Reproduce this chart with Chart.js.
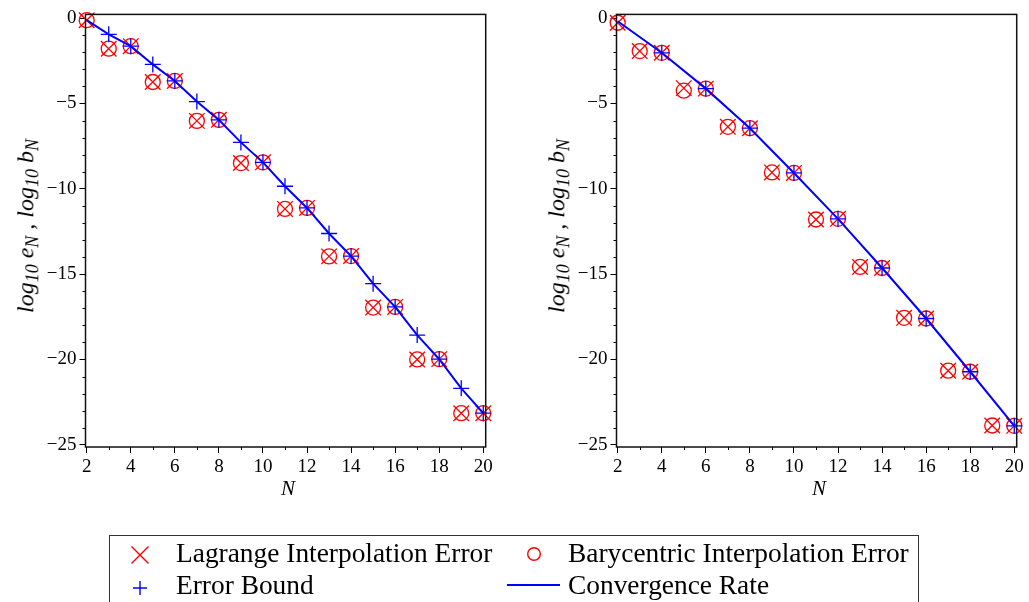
<!DOCTYPE html>
<html>
<head>
<meta charset="utf-8">
<script src="https://cdn.jsdelivr.net/npm/chart.js@4.4.1/dist/chart.umd.min.js"></script>
<style>
  body { margin: 0; width: 1029px; height: 602px; overflow: hidden; background: #fff; position: relative; font-family: 'Liberation Serif', serif; }
  canvas { position: absolute; top: 0; }
  .ytitle { position: absolute; transform: translate(-50%, -50%) rotate(-90deg); white-space: nowrap; font: italic 24px 'Liberation Serif', serif; color: #000; }
  .ytitle sub { font-size: 18px; vertical-align: -0.3em; }
  .xtitle { position: absolute; transform: translate(-50%, -50%); font: italic 21px 'Liberation Serif', serif; color: #000; }
  .legend-box { position: absolute; left: 109px; top: 535px; width: 810px; height: 90px; border: 1.5px solid #333; box-sizing: border-box; }
  .leg-text { position: absolute; font: 27.4px 'Liberation Serif', serif; line-height: 1; white-space: nowrap; color: #000; }
  .leg-sym { position: absolute; }
</style>
</head>
<body>
<canvas id="leftChart" width="498" height="500" style="left:0"></canvas>
<canvas id="rightChart" width="498" height="500" style="left:531px"></canvas>

<div class="ytitle" style="left:28px; top:226px">log<sub>10</sub> e<sub>N</sub> , log<sub>10</sub> b<sub>N</sub></div>
<div class="ytitle" style="left:559px; top:226px">log<sub>10</sub> e<sub>N</sub> , log<sub>10</sub> b<sub>N</sub></div>
<div class="xtitle" style="left:288px; top:488px">N</div>
<div class="xtitle" style="left:819px; top:488px">N</div>

<div class="legend-box"></div>
<svg class="leg-sym" style="left:0;top:0" width="1029" height="602">
  <path d="M131.5 546.5 L148.5 563.5 M148.5 546.5 L131.5 563.5" stroke="#ff0000" stroke-width="1.4" fill="none"/>
  <circle cx="534" cy="554" r="6.3" stroke="#ff0000" stroke-width="1.4" fill="none"/>
  <path d="M133 588 L147 588 M140 581 L140 595" stroke="#0000ff" stroke-width="1.4" fill="none"/>
  <line x1="507" y1="585" x2="560" y2="585" stroke="#0000ff" stroke-width="2"/>
</svg>
<div class="leg-text" style="left:176px; top:540px">Lagrange Interpolation Error</div>
<div class="leg-text" style="left:568px; top:540px">Barycentric Interpolation Error</div>
<div class="leg-text" style="left:176px; top:572px">Error Bound</div>
<div class="leg-text" style="left:568px; top:572px">Convergence Rate</div>

<script>
// values (log10 of errors)
const nValues = [2, 3, 4, 5, 6, 7, 8, 9, 10, 11, 12, 13, 14, 15, 16, 17, 18, 19, 20];

const leftLagrange = [-0.12, -1.79, -1.64, -3.74, -3.68, -6.02, -5.96, -8.49, -8.45, -11.18, -11.12, -13.96, -13.94, -16.96, -16.92, -20.0, -19.98, -23.15, -23.15];
const leftBarycentric = [-0.12, -1.79, -1.64, -3.74, -3.68, -6.02, -5.96, -8.49, -8.45, -11.18, -11.12, -13.96, -13.94, -16.96, -16.92, -20.0, -19.98, -23.15, -23.15];
const leftBoundN = [3, 4, 5, 6, 7, 8, 9, 10, 11, 12, 13, 14, 15, 16, 17, 18, 19, 20];
const leftBound = [-0.95, -1.64, -2.71, -3.68, -4.89, -5.96, -7.28, -8.45, -9.85, -11.12, -12.62, -13.94, -15.56, -16.92, -18.57, -19.98, -21.69, -23.15];
const leftRateN = [2, 3, 4, 5, 6, 7, 8, 9, 10, 11, 12, 13, 14, 15, 16, 17, 18, 19, 20];
const leftRate = [-0.12, -0.95, -1.64, -2.71, -3.68, -4.89, -5.96, -7.28, -8.45, -9.85, -11.12, -12.62, -13.94, -15.56, -16.92, -18.57, -19.98, -21.69, -23.15];

const rightLagrange = [-0.27, -1.93, -2.03, -4.1, -4.13, -6.37, -6.45, -9.04, -9.07, -11.8, -11.76, -14.58, -14.64, -17.56, -17.6, -20.66, -20.72, -23.87, -23.89];
const rightBarycentric = [-0.27, -1.93, -2.03, -4.25, -4.13, -6.37, -6.45, -9.04, -9.07, -11.8, -11.76, -14.58, -14.64, -17.56, -17.6, -20.66, -20.72, -23.87, -23.89];
const rightBoundN = [4, 6, 8, 10, 12, 14, 16, 18, 20];
const rightBound = [-2.03, -4.13, -6.45, -9.07, -11.76, -14.64, -17.6, -20.72, -23.89];
const rightRateN = [2, 4, 6, 8, 10, 12, 14, 16, 18, 20];
const rightRate = [-0.18, -2.03, -4.13, -6.45, -9.07, -11.76, -14.64, -17.6, -20.72, -23.89];

const xTickValues = [2, 3, 4, 5, 6, 7, 8, 9, 10, 11, 12, 13, 14, 15, 16, 17, 18, 19, 20];
const yTickValues = [-25, -24, -23, -22, -21, -20, -19, -18, -17, -16, -15, -14, -13, -12, -11, -10, -9, -8, -7, -6, -5, -4, -3, -2, -1, 0];

const RED = '#ff0000';
const BLUE = '#0000ff';
const tickFont = { family: 'Liberation Serif', size: 19 };

function toPoints(xs, ys) {
    return xs.map((x, i) => ({ x: x, y: ys[i] }));
}

// short minor ticks + frame around the plot area
const framePlugin = {
    id: 'frame',
    afterDraw(chart) {
        const ctx = chart.ctx;
        const a = chart.chartArea;
        const xs = chart.scales.x;
        const ys = chart.scales.y;
        ctx.save();
        ctx.strokeStyle = '#000';
        ctx.lineWidth = 1;
        ctx.beginPath();
        xs.ticks.forEach(t => {
            if (t.value % 2 !== 0) {
                const px = Math.round(xs.getPixelForValue(t.value)) + 0.5;
                ctx.moveTo(px, a.bottom);
                ctx.lineTo(px, a.bottom + 3);
            }
        });
        ys.ticks.forEach(t => {
            if (t.value % 5 !== 0) {
                const py = Math.round(ys.getPixelForValue(t.value)) + 0.5;
                ctx.moveTo(a.left - 3, py);
                ctx.lineTo(a.left, py);
            }
        });
        ctx.stroke();
        ctx.lineWidth = 1.5;
        ctx.strokeStyle = '#111';
        ctx.strokeRect(a.left, a.top, a.right - a.left, a.bottom - a.top);
        ctx.restore();
    }
};

function makeChart(id, lagrange, bary, boundN, bound, rateN, rate) {
    return new Chart(document.getElementById(id), {
        type: 'scatter',
        data: {
            datasets: [
                {
                    label: 'Convergence Rate',
                    data: toPoints(rateN, rate),
                    showLine: true,
                    borderColor: BLUE,
                    borderWidth: 2,
                    pointRadius: 0,
                    fill: false,
                    clip: false,
                    order: 0
                },
                {
                    label: 'Error Bound',
                    data: toPoints(boundN, bound),
                    pointStyle: 'cross',
                    pointRadius: 8,
                    pointBorderColor: BLUE,
                    pointBorderWidth: 1.3,
                    clip: false,
                    order: 1
                },
                {
                    label: 'Barycentric Interpolation Error',
                    data: toPoints(nValues, bary),
                    pointStyle: 'circle',
                    pointRadius: 7.5,
                    pointBorderColor: RED,
                    pointBackgroundColor: 'rgba(0,0,0,0)',
                    pointBorderWidth: 1.3,
                    clip: false,
                    order: 2
                },
                {
                    label: 'Lagrange Interpolation Error',
                    data: toPoints(nValues, lagrange),
                    pointStyle: 'crossRot',
                    pointRadius: 11,
                    pointBorderColor: RED,
                    pointBorderWidth: 1.3,
                    clip: false,
                    order: 3
                }
            ]
        },
        options: {
            responsive: false,
            animation: false,
            devicePixelRatio: 1,
            layout: { padding: { top: 13, right: 7, left: 0, bottom: 0 } },
            plugins: {
                legend: { display: false },
                tooltip: { enabled: false }
            },
            scales: {
                x: {
                    type: 'linear',
                    min: 1.946,
                    max: 20.11,
                    afterBuildTicks: s => { s.ticks = xTickValues.map(v => ({ value: v })); },
                    afterFit: s => { s.height = 53; },
                    ticks: {
                        autoSkip: false,
                        maxRotation: 0,
                        padding: 3,
                        color: '#000',
                        font: tickFont,
                        callback: v => (v % 2 === 0 ? String(v) : '')
                    },
                    grid: {
                        display: true,
                        drawOnChartArea: false,
                        drawTicks: true,
                        tickLength: 6,
                        tickWidth: 1,
                        tickColor: c => (c.tick && c.tick.value % 2 === 0 ? '#000' : 'rgba(0,0,0,0)')
                    },
                    border: { display: false }
                },
                y: {
                    type: 'linear',
                    min: -25.13,
                    max: 0.22,
                    afterBuildTicks: s => { s.ticks = yTickValues.map(v => ({ value: v })); },
                    afterFit: s => { s.width = 85.5; },
                    ticks: {
                        autoSkip: false,
                        padding: 3,
                        color: '#000',
                        font: tickFont,
                        callback: v => (v % 5 === 0 ? String(v).replace('-', '\u2212') : '')
                    },
                    grid: {
                        display: true,
                        drawOnChartArea: false,
                        drawTicks: true,
                        tickLength: 6,
                        tickWidth: 1,
                        tickColor: c => (c.tick && c.tick.value % 5 === 0 ? '#000' : 'rgba(0,0,0,0)')
                    },
                    border: { display: false }
                }
            }
        },
        plugins: [framePlugin]
    });
}

makeChart('leftChart', leftLagrange, leftBarycentric, leftBoundN, leftBound, leftRateN, leftRate);
makeChart('rightChart', rightLagrange, rightBarycentric, rightBoundN, rightBound, rightRateN, rightRate);
</script>
</body>
</html>
